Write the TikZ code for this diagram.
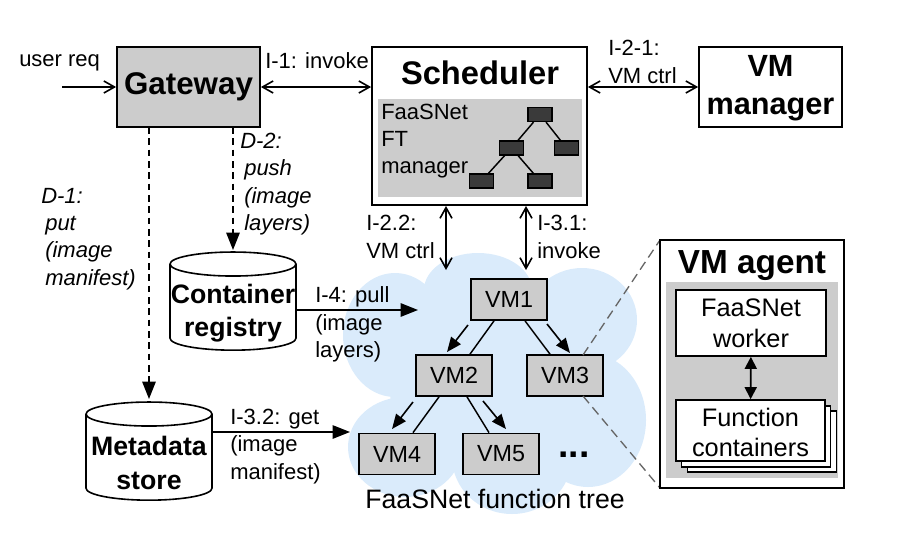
\documentclass[tikz,border=0pt]{standalone}
\usepackage{fontspec}
\setmainfont{Liberation Sans}
\usetikzlibrary{arrows.meta, positioning, shapes.geometric}
\definecolor{cloudblue}{HTML}{DAEBFB}
\definecolor{boxgrey}{HTML}{CCCCCC}
\definecolor{treedark}{HTML}{3A3A3A}
\def\px{0.75pt}
\newcommand{\storefill}{\phantom{\rule{90pt}{46pt}}}
\tikzstyle{every picture} = [x=0.75pt, y=-0.75pt]
\tikzstyle{label text} = [inner sep=0, anchor=west, align=left, font=\fontsize{16.5}{20.5}\selectfont]
\tikzstyle{slant text} = [label text, font=\fontsize{16.5}{20.5}\selectfont\itshape]
\tikzstyle{box} = [draw=black, line width=1.3pt, align=center, inner sep=0]
\tikzstyle{vm} = [box, fill=boxgrey, minimum width=76*\px, minimum height=41*\px, font=\fontsize{17.5}{20}\selectfont]
\tikzstyle{mini} = [draw=black, line width=0.9pt, fill=treedark, minimum width=24*\px, minimum height=14*\px, inner sep=0]
\tikzstyle{store} = [draw=black, line width=1.2pt, fill=white, cylinder, shape border rotate=90, aspect=0.2, minimum width=126*\px, minimum height=98*\px, inner sep=0]
\tikzstyle{store text} = [inner sep=0, align=center, font=\fontsize{20}{25}\selectfont\bfseries]
\tikzstyle{open both} = [line width=1.2pt, {Straight Barb[length=8pt,width=9pt]}-{Straight Barb[length=8pt,width=9pt]}]
\tikzstyle{solid tip} = [line width=1.2pt, -{Triangle[length=13pt,width=10pt]}]
\tikzstyle{tree line} = [line width=1.1pt]

\begin{document}
\begin{tikzpicture}
            \useasboundingbox (0,0) rectangle (898,546);

            % cloud behind the tree
            \fill[cloudblue] (478,290) ellipse (54 and 37)
                             (582,320) ellipse (55 and 52)
                             (588,420) ellipse (58 and 67)
                             (395,335) ellipse (52 and 62)
                             (405,447) ellipse (57 and 50)
                             (512,457) ellipse (60 and 57)
                             (480,390) ellipse (90 and 80);

            \node (gateway) at (188.5,87) [box, fill=boxgrey, minimum width=143*\px, minimum height=80*\px, font=\fontsize{23.5}{26}\selectfont\bfseries] {\raisebox{-2pt}{Gateway}};
            \node (scheduler) at (479.5,126) [box, fill=white, minimum width=215*\px, minimum height=158*\px] {};
            \node (manager) at (770.5,87) [box, fill=white, minimum width=143*\px, minimum height=80*\px] {};
            \node (managertitle) at (770.5,88) [inner sep=0, align=center, font=\fontsize{23}{28.5}\selectfont\bfseries] {VM\\manager};
            \node (schedtitle) at (480,73) [inner sep=0, font=\fontsize{24.5}{28}\selectfont\bfseries] {Scheduler};
            \node (ftback) at (480,148) [fill=boxgrey, minimum width=204*\px, minimum height=98*\px, inner sep=0] {};
            \node (ftlabel) at (381,141) [label text] {FaaSNet\\FT\\manager};

            % small tree in the scheduler
            \node (m1) at (540,114.5) [mini] {};
            \node (m2) at (511.5,148) [mini] {};
            \node (m3) at (566.5,148) [mini] {};
            \node (m4) at (481.5,181) [mini] {};
            \node (m5) at (540,181) [mini] {};
            \path (m1) edge[tree line] (m2)
                  (m1) edge[tree line] (m3)
                  (m2) edge[tree line] (m4)
                  (m2) edge[tree line] (m5);

            \node (registry) at (233,307.5) [store] {\storefill};
            \node (registrytext) at (233,313) [store text] {Container\\registry};
            \node (metadata) at (149,457.5) [store] {\storefill};
            \node (metadatatext) at (149,463) [store text] {Metadata\\store};

            \node (vm1) at (509,299.5) [vm] {VM1};
            \node (vm2) at (454,375.5) [vm] {VM2};
            \node (vm3) at (565,375.5) [vm] {VM3};
            \node (vm4) at (397,454) [vm] {VM4};
            \node (vm5) at (501,454) [vm] {VM5};
            \node (dots) at (574,455) [inner sep=0, font=\fontsize{28}{30}\selectfont\bfseries] {...};
            \node (treelabel) at (495,499) [inner sep=0, font=\fontsize{20}{24}\selectfont] {FaaSNet function tree};

            % zoom lines to the agent
            \coordinate (zoom a) at (583,355);
            \coordinate (zoom b) at (583,396);
            \coordinate (agent a) at (660,240);
            \coordinate (agent b) at (660,488);
            \draw[line width=1pt, draw=black!60, dash pattern=on 7pt off 4pt] (zoom a) -- (agent a);
            \draw[line width=1pt, draw=black!60, dash pattern=on 7pt off 4pt] (zoom b) -- (agent b);

            \node (agent) at (752,364) [box, fill=white, minimum width=184*\px, minimum height=248*\px] {};
            \node (agenttitle) at (752,266) [inner sep=0, font=\fontsize{25}{28}\selectfont\bfseries] {VM agent};
            \node (agentback) at (752,380) [fill=boxgrey, minimum width=172*\px, minimum height=196*\px, inner sep=0] {};
            \node (worker) at (751,323) [box, fill=white, minimum width=150*\px, minimum height=66*\px, font=\fontsize{19}{23}\selectfont] {FaaSNet\\worker};
            \node (back2) at (762,441.5) [box, fill=white, minimum width=149*\px, minimum height=61*\px] {};
            \node (back1) at (756,436.5) [box, fill=white, minimum width=149*\px, minimum height=61*\px] {};
            \node (containers) at (750.5,430.5) [box, fill=white, minimum width=149*\px, minimum height=61*\px] {};
            \node (containertext) at (750.5,432.5) [inner sep=0, align=center, font=\fontsize{19}{22}\selectfont] {Function\\containers};
            \draw[line width=1.4pt, {Triangle[length=9pt,width=9pt]}-{Triangle[length=9pt,width=9pt]}] (worker) -- (containers);

            % free ends of the connectors
            \coordinate (user) at (62,87);
            \coordinate (ctrl end) at (446,270);
            \coordinate (invoke end) at (526,270);
            \coordinate (pull end) at (418,310);
            \coordinate (get end) at (350,432);
            \coordinate (ctrl top) at (446,206);
            \coordinate (invoke top) at (526,206);
            \coordinate (put top) at (149,127);
            \coordinate (put end) at (149,399);
            \coordinate (push top) at (233,127);
            \coordinate (push end) at (233,250);

            \draw[line width=1.2pt, -{Straight Barb[length=8pt,width=9pt]}] (user) -- (gateway);
            \draw[open both] (gateway) -- (scheduler.west |- gateway);
            \draw[open both] (scheduler.east |- manager) -- (manager);
            \draw[open both] (ctrl top) -- (ctrl end);
            \draw[open both] (invoke top) -- (invoke end);
            \draw[solid tip, dash pattern=on 5pt off 3.5pt] (put top) -- (put end);
            \draw[solid tip, dash pattern=on 5pt off 3.5pt] (push top) -- (push end);
            \draw[solid tip] (registry.east |- pull end) -- (pull end);
            \draw[solid tip] (metadata.east |- get end) -- (get end);

            % tree of VMs, each branch with its arrow beside it
            \coordinate (a1) at (468,325);
            \coordinate (a2) at (447,352);
            \coordinate (b1) at (547,324);
            \coordinate (b2) at (570,353);
            \coordinate (c1) at (413,402);
            \coordinate (c2) at (392,429);
            \coordinate (d1) at (483,401);
            \coordinate (d2) at (506,429);
            \path (vm1.south -| 494,0) edge[tree line] (vm2.north -| 470,0)
                  (vm1.south -| 525,0) edge[tree line] (vm3.north -| 550,0)
                  (vm2.south -| 439,0) edge[tree line] (vm4.north -| 413,0)
                  (vm2.south -| 467,0) edge[tree line] (vm5.north -| 489,0);
            \foreach \from/\to in {a1/a2, b1/b2, c1/c2, d1/d2}
                \draw[line width=1.2pt, -{Triangle[length=11pt,width=9pt]}] (\from) -- (\to);

            \node (t user) at (19,63) [label text] {user req};
            \node (t invoke) at (265,61) [label text] {I-1: invoke};
            \node (t ctrl) at (608,62) [label text] {I-2-1:\\VM ctrl};
            \node (t d1) at (41,239) [slant text] {D-1:\\\hspace*{3pt}put\\\hspace*{3pt}(image\\\hspace*{3pt}manifest)};
            \node (t d2) at (240,184) [slant text] {D-2:\\\hspace*{3pt}push\\\hspace*{3pt}(image\\\hspace*{3pt}layers)};
            \node (t i22) at (366,237) [label text] {I-2.2:\\VM ctrl};
            \node (t i31) at (537,237) [label text] {I-3.1:\\invoke};
            \node (t i4) at (315,324.5) [label text] {I-4: pull\\(image\\layers)};
            \node (t i32) at (230,446.5) [label text] {I-3.2: get\\(image\\manifest)};
\end{tikzpicture}
\end{document}
